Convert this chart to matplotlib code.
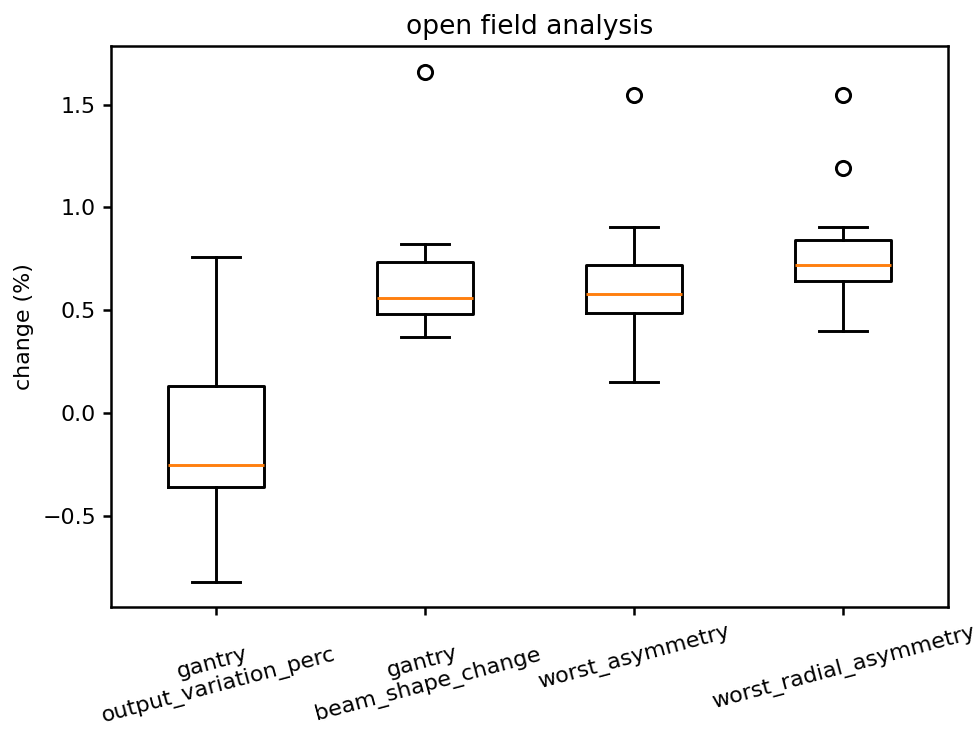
import matplotlib
matplotlib.use('Agg')
import matplotlib.pyplot as plt

# 各欄位的箱形圖統計值
labels = ['gantry\noutput_variation_perc', 'gantry\nbeam_shape_change',
          'worst_asymmetry', 'worst_radial_asymmetry']
medians = [-0.252, 0.560, 0.580, 0.720]
q1s = [-0.359, 0.484, 0.488, 0.643]
q3s = [0.133, 0.733, 0.722, 0.843]
whis_lo = [-0.816, 0.372, 0.152, 0.400]
whis_hi = [0.762, 0.822, 0.906, 0.906]
fliers = [[], [1.660], [1.545], [1.545, 1.190]]

stats = []
for i in range(len(labels)):
    stats.append(dict(label=labels[i], med=medians[i], q1=q1s[i], q3=q3s[i],
                      whislo=whis_lo[i], whishi=whis_hi[i], fliers=fliers[i]))

plt.rcParams['font.size'] = 10.6
plt.rcParams['axes.linewidth'] = 1.2
plt.rcParams['xtick.major.width'] = 1.2
plt.rcParams['ytick.major.width'] = 1.2
plt.rcParams['xtick.major.size'] = 3.8
plt.rcParams['ytick.major.size'] = 3.8

fig = plt.figure(figsize=(979/150, 731/150), dpi=150)
ax = fig.add_subplot(111)
fig.subplots_adjust(left=0.1134, right=0.9683, top=0.937, bottom=0.1696)
lw = 1.4
ax.bxp(stats, widths=0.46,
       boxprops=dict(linewidth=lw),
       whiskerprops=dict(linewidth=lw),
       capprops=dict(linewidth=lw),
       medianprops=dict(linewidth=lw, color='C1'),
       flierprops=dict(marker='o', markersize=6.8, markeredgewidth=1.4,
                       markerfacecolor='none'))
ax.set_title('open field analysis')
ax.set_ylabel('change (%)')
plt.setp(ax.get_xticklabels(), rotation=15)
fig.savefig('out.png', dpi=150)
